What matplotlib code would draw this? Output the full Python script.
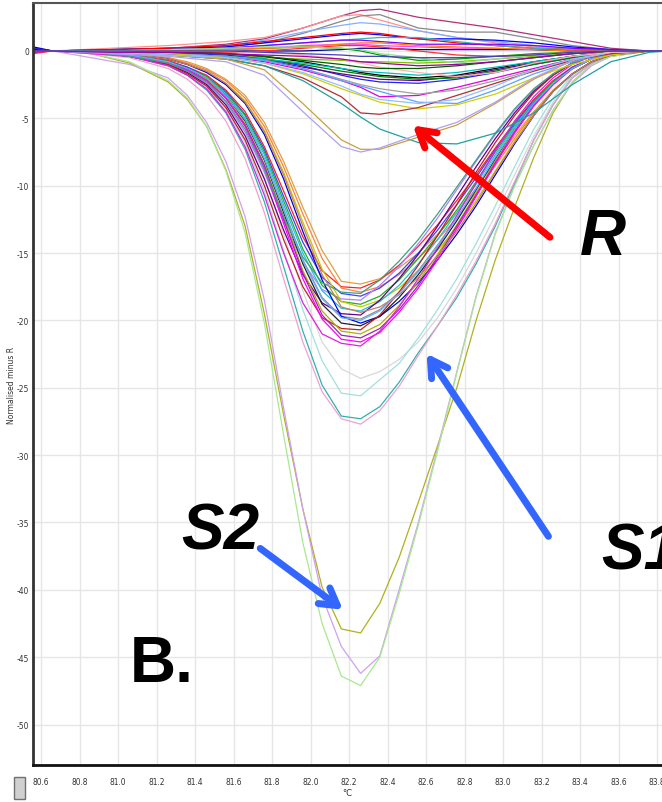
import matplotlib
matplotlib.use("Agg")
from matplotlib import pyplot as plt
from matplotlib.patches import Rectangle

plt.rcParams['axes.unicode_minus'] = False

# temperature grids (deg C) the curves are sampled on
temps_r = [80.56, 80.66, 80.96, 81.26, 81.56, 81.76, 81.96, 82.16, 82.26, 82.36,
           82.56, 82.76, 82.96, 83.16, 83.36, 83.56, 83.76, 83.86]
temps_s = [80.56, 80.66, 80.86, 81.06, 81.26, 81.36, 81.46, 81.56, 81.66, 81.76,
           81.86, 81.96, 82.06, 82.16, 82.26, 82.36, 82.46, 82.56, 82.66, 82.76,
           82.86, 82.96, 83.06, 83.16, 83.26, 83.36, 83.46, 83.56, 83.76, 83.86]

# R group (near zero)
r_curves = [
    [0.1, 0, 0.1, 0.2, 0.5, 0.9, 1.7, 2.6, 3.0, 3.1, 2.5, 2.1, 1.7, 1.2, 0.7, 0.2, 0, 0],
    [0, 0, 0.2, 0.4, 0.7, 1.0, 1.7, 2.6, 2.7, 2.3, 1.5, 1.0, 0.6, 0.3, 0.1, 0, 0, 0],
    [0, 0, 0.1, 0.2, 0.3, 0.6, 1.3, 2.2, 2.6, 2.7, 1.7, 1.4, 1.4, 0.9, 0.4, 0.1, 0, 0],
    [0, 0, 0.1, 0.2, 0.4, 0.8, 1.4, 1.9, 2.1, 2.0, 1.5, 1.0, 0.7, 0.4, 0.2, 0.1, 0, 0],
    [0.2, 0, 0.1, 0.2, 0.3, 0.6, 0.9, 1.2, 1.3, 1.2, 0.9, 0.9, 0.8, 0.6, 0.3, 0.1, 0, 0],
    [-0.1, 0, 0.1, 0.2, 0.4, 0.7, 1.0, 1.3, 1.4, 1.3, 0.9, 0.6, 0.4, 0.2, 0.1, 0, 0, 0],
    [0, 0, 0, 0.1, 0.2, 0.4, 0.6, 0.8, 0.9, 1.0, 1.0, 0.7, 0.4, 0.2, 0.1, 0, 0, 0],
    [0.1, 0, 0, 0, 0.1, 0.2, 0.3, 0.2, 0, -0.3, -0.7, -0.6, -0.4, -0.2, -0.1, 0, 0, 0],
    [0.2, 0, 0, 0.1, 0.2, 0.4, 0.6, 0.8, 0.8, 0.7, 0.5, 0.5, 0.5, 0.4, 0.2, 0.1, 0, 0],
    [0, 0, 0, 0.1, 0.1, 0.2, 0.4, 0.5, 0.5, 0.4, 0.3, 0.2, 0.2, 0.1, 0, 0, 0, 0],
    [0.3, 0, 0, 0, 0, 0, 0, 0.1, 0.2, 0.2, 0.1, 0.1, 0.1, 0.1, 0, 0, 0, 0],
    [-0.2, 0, 0, -0.1, -0.1, 0, 0.2, 0.4, 0.4, 0.3, 0.0, -0.3, -0.4, -0.3, -0.1, 0, 0, 0],
    [0, 0, -0.1, -0.2, -0.3, -0.5, -0.6, -0.7, -0.8, -0.8, -0.9, -0.8, -0.6, -0.4, -0.2, -0.1, 0, 0],
    [0.1, 0, -0.1, -0.1, -0.2, -0.4, -0.8, -1.3, -1.6, -1.8, -2.0, -1.8, -1.3, -0.8, -0.4, -0.1, 0, 0],
    [0.2, 0, -0.1, -0.2, -0.3, -0.6, -1.1, -1.8, -2.1, -2.3, -2.4, -2.1, -1.6, -1.0, -0.5, -0.2, 0, 0],
    [0, 0, -0.1, -0.2, -0.4, -0.7, -1.2, -1.7, -1.9, -2.1, -2.2, -1.9, -1.4, -0.9, -0.4, -0.1, 0, 0],
    [0, 0, -0.1, -0.2, -0.4, -0.6, -1.0, -1.5, -1.7, -1.9, -2.1, -2.0, -1.5, -1.0, -0.5, -0.2, 0, 0],
    [0, 0, -0.1, -0.2, -0.4, -0.6, -0.9, -1.3, -1.5, -1.6, -1.8, -1.6, -1.2, -0.8, -0.4, -0.1, 0, 0],
    [-0.1, 0, -0.1, -0.2, -0.4, -0.8, -1.4, -2.2, -2.7, -3.4, -3.3, -2.7, -2.0, -1.3, -0.6, -0.2, 0, 0],
    [0, 0, -0.1, -0.2, -0.4, -0.7, -1.3, -2.1, -2.5, -2.8, -3.2, -2.9, -2.2, -1.4, -0.7, -0.2, 0, 0],
    [0, 0, -0.1, -0.2, -0.4, -0.7, -1.3, -2.2, -2.6, -3.0, -3.8, -3.9, -2.9, -1.7, -0.8, -0.2, 0, 0],
    [0, 0, -0.1, -0.2, -0.5, -0.9, -1.7, -2.8, -3.3, -3.8, -4.3, -4.0, -3.2, -2.0, -1.0, -0.3, 0, 0],
    [0, 0, -0.1, -0.3, -0.6, -1.1, -2.0, -3.4, -4.6, -4.7, -4.2, -3.3, -2.4, -1.5, -0.7, -0.2, 0, 0],
    [0, 0, -0.1, -0.3, -0.6, -1.1, -2.2, -3.9, -4.9, -5.8, -6.8, -6.9, -6.1, -4.6, -2.5, -0.8, -0.1, 0],
    [0, 0, -0.1, -0.3, -0.6, -1.4, -3.9, -6.6, -7.3, -7.3, -6.4, -5.5, -3.9, -2.1, -0.7, -0.1, 0, 0],
    [0, 0, -0.2, -0.4, -0.8, -1.8, -4.5, -7.1, -7.5, -7.2, -6.2, -5.3, -3.8, -2.0, -0.7, -0.1, 0, 0],
    [0, 0, -0.1, -0.3, -0.5, -0.9, -1.6, -2.6, -3.2, -3.6, -3.9, -3.6, -2.6, -1.4, -0.6, -0.1, 0, 0],
    [0, 0, 0, 0, 0, -0.1, -0.3, -0.6, -0.9, -1.2, -1.6, -1.9, -1.6, -0.9, -0.4, -0.1, 0, 0],
    [0, 0, 0, -0.1, -0.2, -0.4, -0.7, -1.0, -1.2, -1.3, -1.3, -1.1, -0.8, -0.5, -0.2, 0, 0, 0],
    [0, 0, 0, 0, 0.1, 0.2, 0.3, 0.5, 0.6, 0.6, 0.4, 0.3, 0.2, 0.1, 0, 0, 0, 0],
    [0, 0, 0, 0.1, 0.2, 0.3, 0.3, 0.2, 0.1, -0.2, -0.5, -0.9, -0.6, -0.3, -0.1, 0, 0, 0],
    [0, 0, -0.1, -0.1, -0.2, -0.3, -0.4, -0.6, -0.8, -0.9, -1.1, -1.0, -0.8, -0.5, -0.2, 0, 0, 0],
    [0, 0, 0, 0, 0, -0.1, -0.2, -0.3, -0.4, -0.4, -0.5, -0.5, -0.4, -0.3, -0.1, 0, 0, 0],
]
r_colors = ['#b0307a', '#ff9090', '#888888', '#80b0ff', '#0000ff', '#ff0000', '#40b0b0',
            '#00a000', '#8000ff', '#ff40ff', '#0000a0', '#ff3030', '#80c000', '#000000',
            '#2020ff', '#600080', '#008000', '#00c0c0', '#e000e0', '#a0a0a0', '#60a0ff',
            '#d0d000', '#b03030', '#20a0a0', '#c8a040', '#b0a0f0', '#90c0ff', '#ffb0b0',
            '#006000', '#ff8000', '#90e090', '#a000a0', '#4040c0']

# S1 group (main cluster)
s1_curves = [
    [0, 0, -0.1, -0.2, -0.5, -0.8, -1.3, -2.1, -3.3, -5.3, -8.2, -11.6, -14.8, -17.1, -17.3, -16.9, -16.1, -15.0, -13.6, -12.0, -10.2, -8.2, -6.3, -4.5, -2.9, -1.7, -0.8, -0.3, 0, 0],
    [0, 0, -0.1, -0.3, -0.7, -1.2, -1.8, -2.9, -4.5, -7.1, -10.4, -13.8, -16.3, -17.5, -17.6, -17.0, -15.9, -14.5, -12.9, -11.1, -9.2, -7.2, -5.3, -3.6, -2.2, -1.2, -0.6, -0.2, 0, 0],
    [0, 0, -0.1, -0.2, -0.5, -0.9, -1.4, -2.2, -3.5, -5.6, -8.6, -12.1, -15.4, -17.6, -17.9, -17.5, -16.6, -15.4, -14.0, -12.4, -10.5, -8.5, -6.5, -4.6, -3.0, -1.7, -0.8, -0.3, 0, 0],
    [0, 0, -0.1, -0.3, -0.8, -1.2, -1.9, -3.0, -4.7, -7.3, -10.8, -14.2, -16.8, -18.0, -18.2, -17.6, -16.5, -15.0, -13.3, -11.4, -9.4, -7.3, -5.4, -3.7, -2.3, -1.2, -0.6, -0.2, 0, 0],
    [0, 0, -0.1, -0.4, -1.0, -1.5, -2.4, -3.8, -6.0, -9.0, -12.6, -15.7, -17.7, -18.4, -18.5, -17.4, -16.0, -14.3, -12.4, -10.3, -8.2, -6.2, -4.4, -2.9, -1.7, -0.9, -0.4, -0.1, 0, 0],
    [0, 0, -0.1, -0.3, -0.8, -1.3, -1.9, -3.1, -4.8, -7.5, -11.1, -14.7, -17.4, -18.6, -18.8, -18.2, -17.0, -15.4, -13.7, -11.8, -9.7, -7.5, -5.5, -3.8, -2.3, -1.3, -0.6, -0.2, 0, 0],
    [0, 0, -0.1, -0.2, -0.6, -1.0, -1.5, -2.4, -3.7, -5.9, -9.0, -12.7, -16.2, -18.6, -19.0, -18.5, -17.6, -16.3, -14.8, -13.1, -11.1, -8.9, -6.7, -4.7, -3.0, -1.7, -0.8, -0.3, 0, 0],
    [0, 0, -0.1, -0.3, -0.8, -1.3, -2.0, -3.2, -5.0, -7.7, -11.4, -15.0, -17.8, -19.1, -19.3, -18.6, -17.4, -15.8, -14.0, -12.0, -9.9, -7.7, -5.6, -3.8, -2.4, -1.3, -0.6, -0.2, 0, 0],
    [0, 0, -0.1, -0.4, -1.0, -1.6, -2.5, -4.0, -6.3, -9.5, -13.3, -16.6, -18.7, -19.5, -19.6, -18.5, -16.9, -15.1, -13.0, -10.8, -8.6, -6.5, -4.6, -3.0, -1.8, -0.9, -0.4, -0.1, 0, 0],
    [0, 0, -0.1, -0.3, -0.8, -1.3, -2.0, -3.3, -5.1, -8.0, -11.7, -15.5, -18.3, -19.7, -19.9, -19.2, -17.9, -16.3, -14.4, -12.4, -10.2, -7.9, -5.8, -3.9, -2.4, -1.3, -0.6, -0.2, 0, 0],
    [0, 0, -0.1, -0.2, -0.6, -1.0, -1.6, -2.5, -3.9, -6.2, -9.5, -13.4, -17.0, -19.7, -20.2, -19.7, -18.6, -17.2, -15.5, -13.6, -11.5, -9.2, -6.9, -4.8, -3.0, -1.7, -0.8, -0.3, 0, 0],
    [0, 0, -0.1, -0.3, -0.8, -1.3, -2.1, -3.3, -5.2, -8.1, -12.0, -15.8, -18.8, -20.2, -20.4, -19.7, -18.3, -16.6, -14.7, -12.6, -10.3, -8.0, -5.8, -3.9, -2.4, -1.3, -0.6, -0.2, 0, 0],
    [0, 0, -0.1, -0.4, -1.0, -1.7, -2.6, -4.2, -6.6, -10.0, -14.0, -17.5, -19.8, -20.6, -20.7, -19.6, -17.9, -15.9, -13.7, -11.4, -9.0, -6.8, -4.8, -3.1, -1.8, -0.9, -0.4, -0.1, 0, 0],
    [0, 0, -0.1, -0.3, -0.8, -1.4, -2.1, -3.4, -5.4, -8.4, -12.3, -16.3, -19.3, -20.8, -21.0, -20.3, -18.9, -17.1, -15.1, -12.9, -10.6, -8.2, -5.9, -4.0, -2.4, -1.3, -0.6, -0.2, 0, 0],
    [0, 0, -0.1, -0.3, -0.9, -1.4, -2.2, -3.5, -5.5, -8.5, -12.5, -16.5, -19.6, -21.1, -21.3, -20.6, -19.2, -17.4, -15.3, -13.0, -10.7, -8.3, -6.0, -4.0, -2.5, -1.3, -0.6, -0.2, 0, 0],
    [0, 0, -0.1, -0.3, -0.9, -1.4, -2.2, -3.5, -5.6, -8.7, -12.8, -16.9, -19.9, -21.4, -21.6, -20.9, -19.4, -17.6, -15.5, -13.2, -10.8, -8.4, -6.1, -4.1, -2.5, -1.3, -0.6, -0.2, 0, 0],
    [0, 0, -0.2, -0.4, -1.1, -1.8, -2.8, -4.5, -7.1, -10.7, -15.0, -18.7, -21.0, -21.7, -21.9, -20.8, -19.0, -16.9, -14.6, -12.2, -9.8, -7.4, -5.2, -3.4, -2.0, -1.0, -0.4, -0.1, 0, 0],
    [0, 0, -0.1, -0.4, -0.9, -1.5, -2.3, -3.7, -5.8, -8.8, -12.3, -15.3, -17.2, -17.9, -18.0, -17.0, -15.6, -14.0, -12.1, -10.1, -8.1, -6.1, -4.3, -2.8, -1.7, -0.9, -0.4, -0.1, 0, 0],
    [0, 0, -0.1, -0.2, -0.6, -1.0, -1.5, -2.4, -3.8, -6.0, -9.2, -13.0, -16.6, -19.0, -19.4, -19.0, -18.1, -16.8, -15.2, -13.4, -11.3, -9.0, -6.8, -4.8, -3.0, -1.7, -0.8, -0.3, 0, 0],
    [0, 0, -0.1, -0.3, -0.8, -1.3, -2.0, -3.3, -5.1, -8.0, -11.8, -15.6, -18.4, -19.8, -20.0, -19.3, -18.0, -16.4, -14.5, -12.4, -10.2, -7.9, -5.8, -3.9, -2.4, -1.3, -0.6, -0.2, 0, 0],
]
s1_colors = ['#e0a040', '#ff2020', '#ff8040', '#4040ff', '#b080ff', '#20b020', '#c8c800',
             '#20c0e0', '#600090', '#909090', '#0000e0', '#202020', '#c02020', '#b0b000',
             '#a020c0', '#ff00ff', '#e020e0', '#40a080', '#c08060', '#60b0ff']

# S1 deeper curves
s1_deep = [
    [0, 0, -0.1, -0.3, -0.9, -1.5, -2.4, -3.9, -6.1, -9.4, -13.6, -17.8, -21.6, -23.6, -24.3, -23.8, -22.9, -21.6, -19.8, -17.6, -15.0, -12.2, -9.2, -6.3, -3.8, -1.9, -0.8, -0.3, 0, 0],
    [0, 0, -0.1, -0.4, -1.0, -1.7, -2.7, -4.3, -6.8, -10.4, -14.8, -19.2, -23.0, -25.4, -25.6, -24.4, -23.2, -21.3, -19.2, -16.9, -14.3, -11.5, -8.6, -5.8, -3.5, -1.8, -0.8, -0.3, 0, 0],
    [0, 0, -0.1, -0.4, -1.1, -1.8, -2.9, -4.6, -7.3, -11.2, -16.0, -20.8, -24.8, -27.1, -27.3, -26.4, -24.6, -22.4, -20.4, -18.3, -15.8, -13.0, -9.8, -6.6, -4.0, -2.0, -0.9, -0.3, 0, 0],
    [0, 0, -0.2, -0.5, -1.3, -2.1, -3.3, -5.2, -8.0, -12.0, -16.9, -21.6, -25.3, -27.3, -27.7, -26.7, -24.9, -22.6, -20.4, -18.1, -15.6, -12.8, -9.7, -6.6, -4.0, -2.0, -0.9, -0.3, 0, 0],
]
s1_deep_colors = ['#d8d8d8', '#a0e0e0', '#30b0b0', '#f0a0d0']

# S2 group
s2_curves = [
    [0, 0, -0.2, -0.9, -2.3, -3.6, -5.6, -8.8, -13.0, -19.5, -27.0, -34.0, -39.8, -42.9, -43.2, -41.0, -37.6, -33.5, -29.3, -25.0, -20.0, -15.5, -11.6, -7.9, -4.6, -2.3, -1.0, -0.4, 0, 0],
    [0, 0, -0.5, -1.0, -2.0, -3.3, -5.3, -8.2, -12.3, -18.5, -26.5, -34.0, -40.5, -44.2, -46.2, -44.9, -40.0, -35.0, -29.5, -23.8, -18.2, -13.5, -10.0, -7.0, -4.4, -2.4, -1.1, -0.4, 0, 0],
    [0, 0, -0.2, -0.8, -2.2, -3.5, -5.6, -8.9, -13.5, -20.2, -28.5, -36.5, -42.5, -46.4, -47.1, -45.0, -40.3, -35.2, -29.7, -23.9, -18.3, -13.6, -10.0, -7.0, -4.4, -2.3, -1.0, -0.4, 0, 0],
]
s2_colors = ['#b0b020', '#d0a0f0', '#a8e890']

x_ticks = [80.6, 80.8, 81.0, 81.2, 81.4, 81.6, 81.8, 82.0, 82.2, 82.4, 82.6, 82.8,
           83.0, 83.2, 83.4, 83.6, 83.8]
y_ticks = [0, -5, -10, -15, -20, -25, -30, -35, -40, -45, -50]


def main():
    W, H = 662, 803
    fig = plt.figure(figsize=(W / 100, H / 100), dpi=100)
    ax = fig.add_axes([33 / W, 1 - 766 / H, 629 / W, 762 / H])

    for vals, c in zip(s2_curves, s2_colors):
        ax.plot(temps_s, vals, color=c, lw=0.9)
    for vals, c in zip(s1_deep, s1_deep_colors):
        ax.plot(temps_s, vals, color=c, lw=0.9)
    for vals, c in zip(s1_curves, s1_colors):
        ax.plot(temps_s, vals, color=c, lw=0.9)
    for vals, c in zip(r_curves, r_colors):
        ax.plot(temps_r, vals, color=c, lw=0.9)

    ax.set_xlim(80.558, 83.826)
    ax.set_ylim(-53.0, 3.56)
    ax.set_xticks(x_ticks)
    ax.set_xticklabels(['%.1f' % t for t in x_ticks])
    ax.set_yticks(y_ticks)
    ax.set_yticklabels([str(t) for t in y_ticks])
    ax.grid(True, color='#e6e6e6', lw=1.0)
    ax.set_axisbelow(True)

    ax.tick_params(length=0, labelsize=6, colors='#333333')
    ax.tick_params(axis='x', pad=9)
    ax.tick_params(axis='y', pad=3)
    for lab in ax.get_xticklabels() + ax.get_yticklabels():
        lab.set_fontstretch('condensed')
    ax.set_xlabel('°C', fontsize=6, labelpad=1, color='#333333')
    ax.set_ylabel('Normalised minus R', fontsize=5.5, color='#333333')
    ax.yaxis.set_label_coords(-0.027, 0.5)

    ax.spines['right'].set_visible(False)
    ax.spines['top'].set_color('#555555')
    ax.spines['top'].set_linewidth(1.5)
    ax.spines['left'].set_color('#333333')
    ax.spines['left'].set_linewidth(2)
    ax.spines['bottom'].set_color('#111111')
    ax.spines['bottom'].set_linewidth(2)

    # small tool icon bottom-left
    fig.patches.append(Rectangle((14 / W, 1 - 800 / H), 11 / W, 22 / H,
                                 transform=fig.transFigure, facecolor='#d0d0d0',
                                 edgecolor='#707070', lw=1))

    # annotations
    big = dict(fontsize=46, fontweight='heavy', fontstyle='italic',
               family=['Liberation Sans', 'DejaVu Sans'], color='black',
               ha='center', va='center')
    fig.text(603 / W, 1 - 238 / H, 'R', **big)
    fig.text(640 / W, 1 - 553 / H, 'S1', **big)
    fig.text(220 / W, 1 - 533 / H, 'S2', **big)
    fig.text(162 / W, 1 - 665 / H, 'B.', **dict(big, fontstyle='normal'))

    arrow_red = dict(arrowstyle='->,head_length=1.2,head_width=0.7', color='#ff0000', lw=5)
    arrow_blue = dict(arrowstyle='->,head_length=1.2,head_width=0.7', color='#3366ff', lw=5)
    ax.annotate('', xy=(82.52, -5.4), xytext=(83.255, -13.96),
                arrowprops=arrow_red, annotation_clip=False)
    ax.annotate('', xy=(82.595, -22.3), xytext=(83.244, -36.2),
                arrowprops=arrow_blue, annotation_clip=False)
    ax.annotate('', xy=(82.18, -41.6), xytext=(81.727, -36.8),
                arrowprops=arrow_blue, annotation_clip=False)

    plt.savefig('out.png', dpi=100)


if __name__ == "__main__":
    main()
